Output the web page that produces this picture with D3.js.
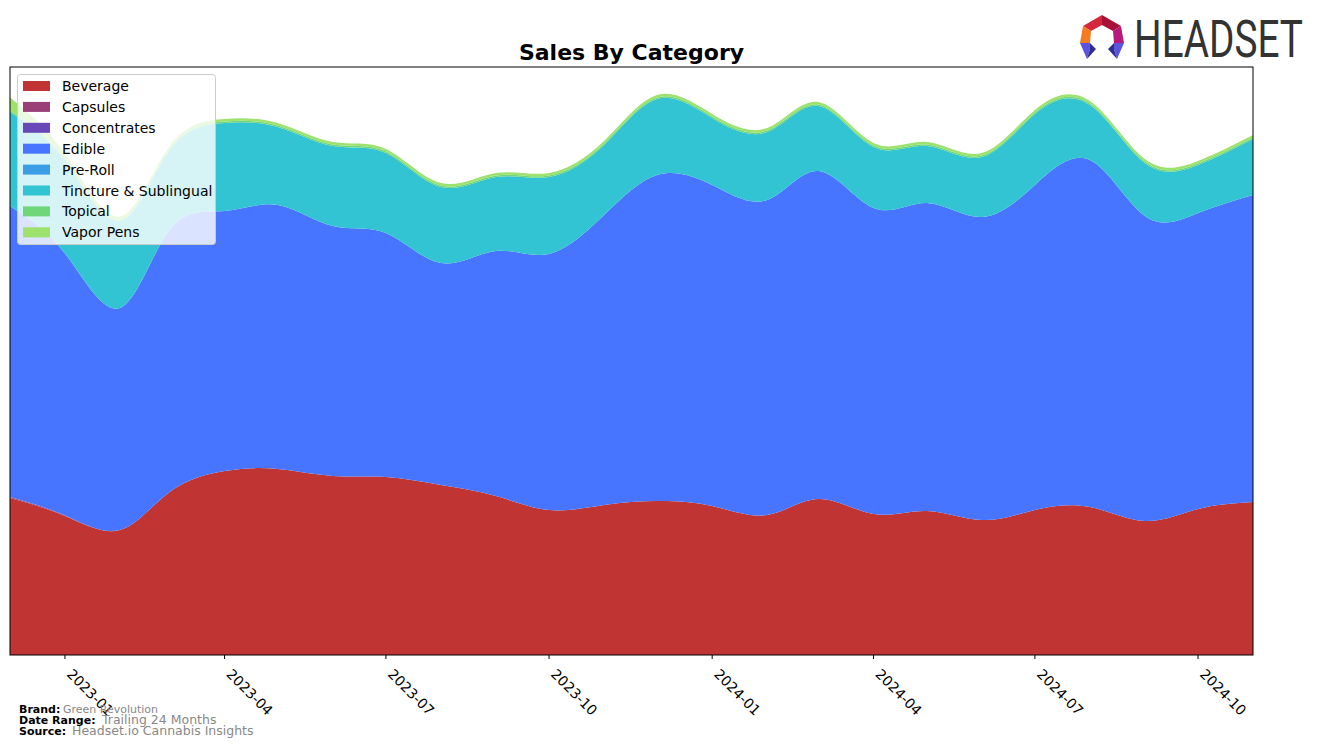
<!DOCTYPE html>
<head>
  <meta charset="utf-8">
  <title>Sales By Category</title>
  <style>
    body { margin: 0; background: #fff; }
    svg { display: block; font-family: "DejaVu Sans", sans-serif; }
  </style>
</head>
<body>
<svg width="1317" height="747"></svg>
<script src="https://d3js.org/d3.v7.min.js"></script>
<script>

// monthly sales (arbitrary units)
var months = ["2022-12", "2023-01", "2023-02", "2023-03", "2023-04", "2023-05", "2023-06", "2023-07",
              "2023-08", "2023-09", "2023-10", "2023-11", "2023-12", "2024-01", "2024-02", "2024-03",
              "2024-04", "2024-05", "2024-06", "2024-07", "2024-08", "2024-09", "2024-10", "2024-11"];

var beverage     = [157, 139, 125, 163, 184, 186, 179, 178, 170, 159, 145, 150, 154, 149, 140, 156, 141, 144, 135, 145, 148, 134, 146, 153];
var capsules     = [1, 0.5, 0, 0, 0, 0, 0, 0, 0, 0, 0, 0, 0, 0, 0, 0, 0, 0, 0, 0, 0, 0, 0, 0];
var concentrates = [0, 0, 0, 0, 0, 0, 0, 0, 0, 0, 0, 0, 0, 0, 0, 0, 0, 0, 0, 0, 0, 0, 0, 0];
var edible       = [291, 262, 222, 262, 260, 264, 250, 244, 222, 245, 256, 290, 326, 321, 315, 328, 306, 308, 303, 325, 347, 305, 296, 307];
var preRoll      = [0, 0, 0, 0, 0, 0, 0, 0, 0, 0, 0, 0, 0, 0, 0, 0, 0, 0, 0, 0, 0, 0, 0, 0];
var tincture     = [94, 93, 87, 80, 88, 78, 80, 80, 76, 74, 77, 70, 76, 67, 68, 65, 61, 57, 60, 71, 55, 53, 48, 56];
var topical      = [1.5, 1.5, 1.5, 1.5, 1.5, 1.5, 1.5, 1.5, 1.5, 1.5, 1.5, 1.5, 1.5, 1.5, 1.5, 1.5, 1.5, 1.5, 1.5, 1.5, 1.5, 1.5, 1.5, 1.5];
var vaporPens    = [13, 5, 3, 2.5, 2.5, 2.5, 2.5, 2.5, 2.5, 2.5, 2.5, 2.5, 2.5, 2.5, 2.5, 2.5, 2.5, 2.5, 2.5, 2.5, 2.5, 2.5, 2.5, 2.5];

var categories = ["Beverage", "Capsules", "Concentrates", "Edible", "Pre-Roll", "Tincture & Sublingual", "Topical", "Vapor Pens"];
var colors = ["#c13434", "#9a3e78", "#6848b8", "#4775ff", "#3a9de6", "#33c4d3", "#6fd67a", "#9ce26c"];
var tickLabels = ["2023-01", "2023-04", "2023-07", "2023-10", "2024-01", "2024-04", "2024-07", "2024-10"];

var series = [beverage, capsules, concentrates, edible, preRoll, tincture, topical, vaporPens];

var parse = d3.timeParse("%Y-%m");
var table = months.map(function(m, i) {
  var row = { date: parse(m) };
  categories.forEach(function(c, j) { row[c] = series[j][i]; });
  return row;
});

var svg = d3.select("svg");
var plotLeft = 10, plotRight = 1253, plotTop = 67, plotBottom = 655;

var stack = d3.stack().keys(categories);
var layers = stack(table);

var maxTotal = d3.max(layers[layers.length - 1], function(d) { return d[1]; });

var x = d3.scaleTime()
    .domain(d3.extent(table, function(d) { return d.date; }))
    .range([plotLeft, plotRight]);

var y = d3.scaleLinear()
    .domain([0, maxTotal * 1.05])
    .range([plotBottom, plotTop]);

var area = d3.area()
    .curve(d3.curveNatural)
    .x(function(d) { return x(d.data.date); })
    .y0(function(d) { return y(d[0]); })
    .y1(function(d) { return y(d[1]); });

svg.append("clipPath").attr("id", "plot")
  .append("rect").attr("x", plotLeft).attr("y", plotTop)
    .attr("width", plotRight - plotLeft).attr("height", plotBottom - plotTop);

svg.append("g").attr("clip-path", "url(#plot)")
  .selectAll("path")
  .data(layers)
  .enter().append("path")
    .attr("d", area)
    .attr("fill", function(d, i) { return colors[i]; });

// frame
svg.append("rect")
    .attr("x", plotLeft).attr("y", plotTop)
    .attr("width", plotRight - plotLeft).attr("height", plotBottom - plotTop)
    .attr("fill", "none").attr("stroke", "#000").attr("stroke-width", 1);

// x axis
var ticks = tickLabels.map(parse);
var xAxis = svg.append("g");
xAxis.selectAll("line")
  .data(ticks)
  .enter().append("line")
    .attr("x1", function(d) { return x(d); }).attr("x2", function(d) { return x(d); })
    .attr("y1", plotBottom).attr("y2", plotBottom + 4)
    .attr("stroke", "#000");

xAxis.selectAll("text")
  .data(ticks)
  .enter().append("text")
    .attr("transform", function(d) { return "translate(" + (x(d) + 1) + "," + (plotBottom + 20) + ") rotate(45)"; })
    .attr("font-size", 14)
    .attr("fill", "#000")
    .text(d3.timeFormat("%Y-%m"));

// title
svg.append("text")
    .attr("x", (plotLeft + plotRight) / 2).attr("y", 60)
    .attr("text-anchor", "middle")
    .attr("font-size", 22).attr("font-weight", "bold")
    .text("Sales By Category");

// legend
var legend = svg.append("g");
legend.append("rect")
    .attr("x", 17.5).attr("y", 74.5).attr("width", 198).attr("height", 170).attr("rx", 3)
    .attr("fill", "#fff").attr("fill-opacity", 0.8)
    .attr("stroke", "#ccc");

var item = legend.selectAll("g.item")
  .data(categories)
  .enter().append("g")
    .attr("transform", function(d, i) { return "translate(23," + (86 + i * 20.9) + ")"; });

item.append("rect")
    .attr("x", 0).attr("y", -5).attr("width", 27).attr("height", 10)
    .attr("fill", function(d, i) { return colors[i]; });

item.append("text")
    .attr("x", 39).attr("y", 5)
    .attr("font-size", 14)
    .text(function(d) { return d; });

// footer
var foot = [["Brand:", "Green Revolution", 11, 63], ["Date Range:", "Trailing 24 Months", 12.5, 102], ["Source:", "Headset.io Cannabis Insights", 12.5, 72]];
foot.forEach(function(f, i) {
  var yy = 713 + i * 11;
  svg.append("text").attr("x", 19).attr("y", yy)
     .attr("font-size", 11).attr("font-weight", "bold").text(f[0]);
  svg.append("text").attr("x", f[3]).attr("y", yy)
     .attr("font-size", f[2]).attr("fill", "#888").text(f[1]);
});

// logo
var logo = svg.append("g").attr("transform", "translate(1102,37)");
var pieces = [
  { c: "#a8123a", p: [[0,-22],[19,-11],[11,-6],[0,-12]] },
  { c: "#d4283c", p: [[0,-22],[-19,-11],[-11,-6],[0,-12]] },
  { c: "#f47b20", p: [[-19,-11],[-22,6],[-12,6],[-11,-6]] },
  { c: "#b8197c", p: [[19,-11],[22,6],[12,6],[11,-6]] },
  { c: "#5a55dc", p: [[-22,6],[-12,6],[-12,12],[-15,22]] },
  { c: "#2f2c94", p: [[-12,6],[-6,12],[-15,22],[-12,12]] },
  { c: "#5a55dc", p: [[22,6],[12,6],[12,12],[15,22]] },
  { c: "#2f2c94", p: [[12,6],[6,12],[15,22],[12,12]] }
];
logo.selectAll("polygon")
  .data(pieces)
  .enter().append("polygon")
    .attr("points", function(d) { return d.p.map(function(q) { return q.join(","); }).join(" "); })
    .attr("fill", function(d) { return d.c; });

svg.append("text")
    .attr("x", 1134).attr("y", 57)
    .attr("font-family", "Roboto, sans-serif")
    .attr("font-size", 51)
    .attr("fill", "#333")
    .attr("textLength", 169).attr("lengthAdjust", "spacingAndGlyphs")
    .text("HEADSET");

</script>
</body>
